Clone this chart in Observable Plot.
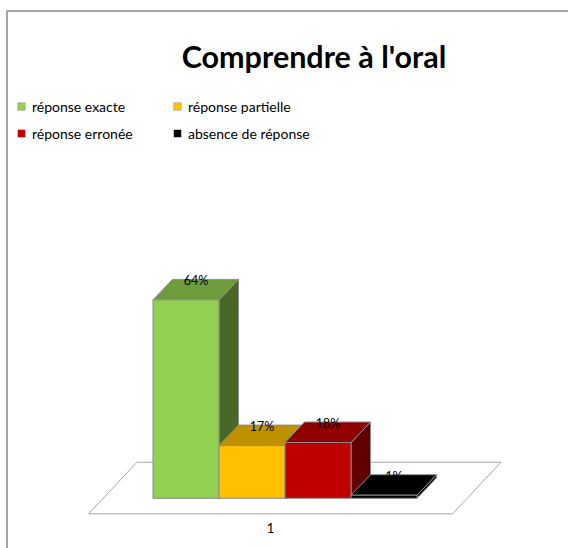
<!DOCTYPE html>
<html>
<head>
<meta charset="utf-8">
<script src="https://cdn.jsdelivr.net/npm/d3@7"></script>
<script src="https://cdn.jsdelivr.net/npm/@observablehq/plot@0.6"></script>
<style>
  body { margin: 0; background: #fff; }
  #wrap { position: relative; width: 568px; height: 548px; overflow: hidden; font-family: Lato, "Open Sans", sans-serif; color: #000; }
  #frame { position: absolute; left: 6px; top: 10px; width: 700px; height: 700px; border-left: 2px solid #a6a6a6; border-top: 2px solid #a6a6a6; box-sizing: border-box; }
  #chart { position: absolute; left: 0; top: 0; }
  #title { position: absolute; left: 314px; top: 40px; transform: translateX(-50%); white-space: nowrap; font-weight: bold; font-size: 30.5px; line-height: 32px; }
  .leg { position: absolute; display: flex; align-items: center; height: 16px; font-size: 14px; white-space: nowrap; }
  .leg span.sw { display: inline-block; width: 7px; height: 7px; margin-right: 7px; box-shadow: 0 0 0 0.5px #8c8c8c; }
</style>
</head>
<body>
<div id="wrap">
  <div id="frame"></div>
  <div id="chart"></div>
  <div id="title"></div>
  <div id="legend"></div>
</div>
<script>
// ---- data ----
const titleText = "Comprendre à l'oral";
const categories = ["réponse exacte", "réponse partielle", "réponse erronée", "absence de réponse"];
const values = [64, 17, 18, 1];
const valueLabels = ["64%", "17%", "18%", "1%"];
const axisLabels = ["1"];
const palette = ["#92D050", "#FFC000", "#C00000", "#000000"];

const data = categories.map((c, i) => ({category: c, value: values[i], label: valueLabels[i]}));

// ---- title & legend ----
document.getElementById("title").textContent = titleText;
const legendPos = [[18, 98], [174, 98], [18, 125], [174, 125]];
const legend = document.getElementById("legend");
categories.forEach((c, i) => {
  const el = document.createElement("div");
  el.className = "leg";
  el.style.left = legendPos[i][0] + "px";
  el.style.top = legendPos[i][1] + "px";
  const sw = document.createElement("span");
  sw.className = "sw";
  sw.style.background = palette[i];
  el.appendChild(sw);
  el.appendChild(document.createTextNode(c));
  legend.appendChild(el);
});

// ---- 3D geometry (pixels) ----
const D = {dx: 19.5, dy: 20.5};   // bar depth
const F = {dx: 48.3, dy: 51.6};   // floor depth
const floorPad = 50;

function shade(c, f) {
  const r = d3.rgb(c);
  return d3.rgb(r.r * f, r.g * f, r.b * f).formatHex();
}
function bandwidthOf(x) {
  return typeof x.bandwidth === "function" ? x.bandwidth() : (x(categories[1]) - x(categories[0]));
}
function poly(pts) { return "M" + pts.map(p => p.join(",")).join("L") + "Z"; }

function floorMark(index, scales) {
  const {x, y} = scales;
  const bw = bandwidthOf(x);
  const xs = x(categories[0]), xe = x(categories[categories.length - 1]) + bw, base = y(0);
  const fy = base - D.dy / 2 + F.dy / 2;
  const fl = xs - floorPad + D.dx / 2 - F.dx / 2;
  const fr = xe + floorPad + D.dx / 2 - F.dx / 2;
  const g = d3.create("svg:g");
  g.append("path")
    .attr("d", poly([[fl, fy], [fr, fy], [fr + F.dx, fy - F.dy], [fl + F.dx, fy - F.dy]]))
    .attr("fill", "#fff").attr("stroke", "#a6a6a6").attr("stroke-width", 1);
  g.append("text")
    .attr("x", (fl + fr) / 2).attr("y", fy + 14)
    .attr("text-anchor", "middle").attr("dominant-baseline", "central")
    .attr("font-size", 13).attr("fill", "#000")
    .text(axisLabels[0]);
  return g.node();
}

function facesMark(index, scales) {
  const {x, y} = scales;
  const bw = bandwidthOf(x);
  const col = (d, i) => (scales.color ? scales.color(d.category) : palette[i]);
  const g = d3.create("svg:g").attr("stroke", "#8c8c8c").attr("stroke-width", 1).attr("stroke-linejoin", "round");
  data.forEach((d, i) => {
    const x1 = x(d.category), x2 = x1 + bw, yt = y(d.value), yb = y(0);
    g.append("path")
      .attr("d", poly([[x2, yt], [x2 + D.dx, yt - D.dy], [x2 + D.dx, yb - D.dy], [x2, yb]]))
      .attr("fill", shade(col(d, i), 0.5));
    g.append("path")
      .attr("d", poly([[x1, yt], [x2, yt], [x2 + D.dx, yt - D.dy], [x1 + D.dx, yt - D.dy]]))
      .attr("fill", shade(col(d, i), 0.75));
  });
  return g.node();
}

const chart = Plot.plot({
  width: 568,
  height: 548,
  marginLeft: 151.7,
  marginRight: 150.7,
  marginTop: 188.3,
  marginBottom: 49.7,
  style: {fontFamily: "Lato, 'Open Sans', sans-serif", background: "transparent", overflow: "visible"},
  x: {type: "band", domain: categories, padding: 0, axis: null},
  y: {domain: [0, 100], axis: null},
  color: {domain: categories, range: palette},
  marks: [
    floorMark,
    facesMark,
    Plot.barY(data, {x: "category", y: "value", fill: "category", stroke: "#8c8c8c", strokeWidth: 1}),
    Plot.text(data, {x: "category", y: "value", text: "label", dx: 9.5, dy: -19, fontSize: 12.5, fill: "#000"})
  ]
});
document.getElementById("chart").appendChild(chart);
</script>
</body>
</html>
